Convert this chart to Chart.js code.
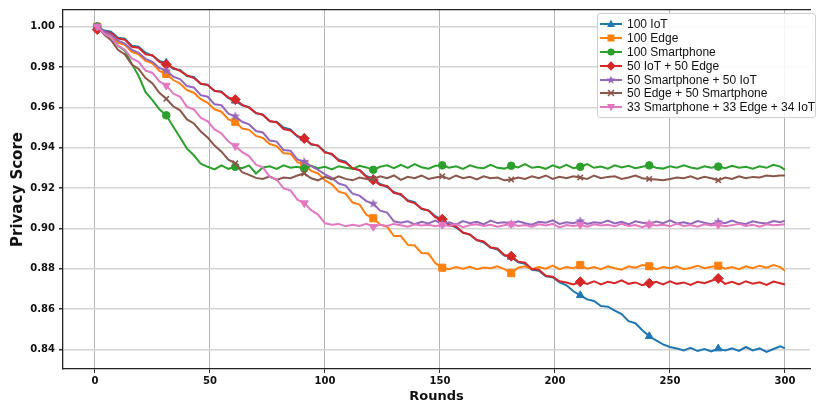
<!DOCTYPE html>
<html>
<head>
<meta charset="utf-8">
<script src="https://cdn.jsdelivr.net/npm/chart.js@4.4.1/dist/chart.umd.min.js"></script>
<style>
  html, body { margin: 0; padding: 0; background: #fff; overflow: hidden; }
  #wrap { position: relative; width: 816px; height: 405px; }
  #legend {
    position: absolute; left: 597px; top: 13px; width: 216px;
    padding: 3px 0 3px 1px; background: rgba(255,255,255,0.85);
    border: 1px solid #d0d0d0; border-radius: 3px;
    font: 12px "Liberation Sans", Arial, sans-serif; color: #111;
  }
  #legend .row { display: flex; align-items: center; height: 13.9px; white-space: nowrap; }
  #legend svg { width: 24px; height: 14px; margin-right: 4px; flex: none; }
</style>
</head>
<body>
<div id="wrap">
  <canvas id="privacyChart" width="816" height="405"></canvas>
  <div id="legend"></div>
</div>
<script>
// rounds (sampled every 3 rounds, markers every 30)
const rounds = [
  1, 4, 7, 10, 13, 16, 19, 22, 25, 28,
  31, 34, 37, 40, 43, 46, 49, 52, 55, 58,
  61, 64, 67, 70, 73, 76, 79, 82, 85, 88,
  91, 94, 97, 100, 103, 106, 109, 112, 115, 118,
  121, 124, 127, 130, 133, 136, 139, 142, 145, 148,
  151, 154, 157, 160, 163, 166, 169, 172, 175, 178,
  181, 184, 187, 190, 193, 196, 199, 202, 205, 208,
  211, 214, 217, 220, 223, 226, 229, 232, 235, 238,
  241, 244, 247, 250, 253, 256, 259, 262, 265, 268,
  271, 274, 277, 280, 283, 286, 289, 292, 295, 298,
  300
];

const xTicks = [0, 50, 100, 150, 200, 250, 300];
const yTicks = [0.84, 0.86, 0.88, 0.90, 0.92, 0.94, 0.96, 0.98, 1.00];

const iot100 = [
  1.000, 0.9980, 0.9975, 0.9945, 0.9940, 0.9905, 0.9900, 0.9870, 0.9855, 0.9830,
  0.9820, 0.9790, 0.9785, 0.9755, 0.9750, 0.9715, 0.9712, 0.9680, 0.9678, 0.9645,
  0.9632, 0.9610, 0.9600, 0.9570, 0.9565, 0.9530, 0.9528, 0.9500, 0.9490, 0.9455,
  0.9448, 0.9415, 0.9410, 0.9380, 0.9365, 0.9340, 0.9330, 0.9295, 0.9290, 0.9260,
  0.9245, 0.9220, 0.9205, 0.9180, 0.9165, 0.9140, 0.9130, 0.9095, 0.9090, 0.9060,
  0.9042, 0.9020, 0.9005, 0.8980, 0.8968, 0.8942, 0.8930, 0.8905, 0.8895, 0.8865,
  0.8858, 0.8832, 0.8825, 0.8795, 0.8790, 0.8762, 0.8758, 0.8732, 0.8718, 0.8688,
  0.8668, 0.8648, 0.8640, 0.8615, 0.8612, 0.8592, 0.8575, 0.8540, 0.8530, 0.8495,
  0.8465, 0.8445, 0.8425, 0.8412, 0.8405, 0.8395, 0.8408, 0.8392, 0.8402, 0.839,
  0.8404, 0.8395, 0.8405, 0.8393, 0.8412, 0.8395, 0.8405, 0.8388, 0.8402, 0.8415,
  0.8405
];

const edge100 = [
  1.000, 0.9970, 0.9960, 0.9920, 0.9910, 0.9875, 0.9862, 0.9830, 0.9818, 0.9780,
  0.9765, 0.9735, 0.9718, 0.9685, 0.9672, 0.9640, 0.9622, 0.9590, 0.9578, 0.9540,
  0.9528, 0.9495, 0.9488, 0.9458, 0.9448, 0.9418, 0.9408, 0.9372, 0.9370, 0.9328,
  0.9318, 0.9285, 0.9272, 0.9238, 0.9218, 0.9182, 0.9172, 0.9128, 0.9118, 0.9068,
  0.9050, 0.9018, 0.9008, 0.8962, 0.8962, 0.8918, 0.8915, 0.8878, 0.8875, 0.8828,
  0.8805, 0.8798, 0.8808, 0.880, 0.881, 0.8798, 0.8806, 0.8802, 0.8812, 0.8798,
  0.8778, 0.8805, 0.8812, 0.8798, 0.8808, 0.880, 0.8815, 0.8798, 0.8808, 0.8802,
  0.8818, 0.880, 0.8808, 0.8798, 0.8812, 0.8802, 0.8795, 0.8812, 0.8805, 0.8818,
  0.8812, 0.8798, 0.8808, 0.8802, 0.8812, 0.8798, 0.8805, 0.8815, 0.8802, 0.881,
  0.8815, 0.880, 0.8808, 0.8798, 0.8812, 0.8803, 0.8815, 0.8805, 0.8818, 0.8808,
  0.879
];

const phone100 = [
  1.000, 0.9965, 0.9945, 0.9905, 0.9880, 0.9815, 0.9755, 0.9675, 0.9635, 0.9590,
  0.9560, 0.9505, 0.9450, 0.9395, 0.9362, 0.9320, 0.9305, 0.9292, 0.9312, 0.9295,
  0.9305, 0.9298, 0.9312, 0.9272, 0.9302, 0.9308, 0.9295, 0.9312, 0.930, 0.9305,
  0.9296, 0.931, 0.9298, 0.9305, 0.9292, 0.9308, 0.930, 0.9295, 0.931, 0.9302,
  0.929, 0.9305, 0.9312, 0.9298, 0.9315, 0.930, 0.9318, 0.9303, 0.9296, 0.931,
  0.9312, 0.930, 0.9308, 0.9295, 0.9312, 0.9302, 0.9298, 0.9315, 0.930, 0.9296,
  0.931, 0.9302, 0.9318, 0.930, 0.9305, 0.9295, 0.9312, 0.930, 0.9315, 0.9298,
  0.9305, 0.9318, 0.930, 0.9306, 0.9296, 0.9312, 0.9302, 0.931, 0.9298, 0.9305,
  0.9312, 0.930, 0.9296, 0.9308, 0.930, 0.9312, 0.9302, 0.9296, 0.9308, 0.930,
  0.9306, 0.9298, 0.931, 0.930, 0.9305, 0.9296, 0.9308, 0.930, 0.9315, 0.9306,
  0.929
];

const iot50edge50 = [
  0.9985, 0.9975, 0.9968, 0.9940, 0.9935, 0.9900, 0.9895, 0.9862, 0.9858, 0.9825,
  0.9812, 0.9795, 0.9780, 0.9758, 0.9745, 0.9718, 0.9710, 0.9682, 0.9675, 0.9648,
  0.9638, 0.9612, 0.9598, 0.9572, 0.9562, 0.9532, 0.9525, 0.9492, 0.9485, 0.9458,
  0.9445, 0.9418, 0.9410, 0.9375, 0.9370, 0.9335, 0.9325, 0.9298, 0.9288, 0.9255,
  0.9240, 0.9215, 0.9210, 0.9175, 0.9170, 0.9135, 0.9125, 0.9098, 0.9088, 0.9055,
  0.9045, 0.9015, 0.9010, 0.8978, 0.8970, 0.8942, 0.8935, 0.8905, 0.8900, 0.8868,
  0.8862, 0.8835, 0.8830, 0.8798, 0.8795, 0.8765, 0.8760, 0.8738, 0.8732, 0.8722,
  0.8735, 0.8725, 0.8738, 0.8722, 0.8735, 0.8728, 0.8742, 0.8725, 0.8732, 0.8718,
  0.8728, 0.8735, 0.8722, 0.8738, 0.8725, 0.8732, 0.872, 0.8735, 0.8728, 0.874,
  0.8752, 0.8725, 0.8735, 0.8722, 0.8738, 0.8726, 0.8733, 0.872, 0.8736, 0.8728,
  0.8722
];

const phone50iot50 = [
  1.000, 0.9975, 0.9960, 0.9930, 0.9915, 0.9885, 0.9870, 0.9840, 0.9825, 0.9795,
  0.9782, 0.9752, 0.9740, 0.9705, 0.9698, 0.9660, 0.9652, 0.9615, 0.9610, 0.9568,
  0.9555, 0.9528, 0.9515, 0.9482, 0.9475, 0.9435, 0.9430, 0.9388, 0.9385, 0.9342,
  0.9330, 0.9308, 0.9290, 0.9268, 0.9250, 0.9222, 0.9212, 0.9172, 0.9162, 0.9135,
  0.9122, 0.9088, 0.9078, 0.9035, 0.9028, 0.9035, 0.902, 0.9032, 0.9024, 0.9038,
  0.9022, 0.9030, 0.9018, 0.9036, 0.9025, 0.9032, 0.9020, 0.9038, 0.9026, 0.9030,
  0.9022, 0.9035, 0.9025, 0.9018, 0.9032, 0.9028, 0.9040, 0.9022, 0.9030, 0.9025,
  0.9036, 0.9022, 0.9030, 0.9026, 0.9038, 0.9024, 0.9032, 0.9020, 0.9035, 0.9028,
  0.9022, 0.9034, 0.9026, 0.9040, 0.9024, 0.9030, 0.9022, 0.9036, 0.9028, 0.9020,
  0.9032, 0.9025, 0.9038, 0.9026, 0.9022, 0.9035, 0.9028, 0.9024, 0.9036, 0.9030,
  0.9038
];

const edge50phone50 = [
  1.000, 0.9960, 0.9932, 0.9885, 0.9862, 0.9812, 0.9790, 0.9745, 0.9718, 0.9672,
  0.9642, 0.9605, 0.9585, 0.9540, 0.9520, 0.9480, 0.9450, 0.9410, 0.9380, 0.9340,
  0.9322, 0.9278, 0.9265, 0.9250, 0.9245, 0.9258, 0.924, 0.9252, 0.9248, 0.9262,
  0.9272, 0.9248, 0.9238, 0.9255, 0.9242, 0.9258, 0.9245, 0.9238, 0.9252, 0.9245,
  0.9245, 0.9258, 0.9248, 0.9262, 0.924, 0.9255, 0.9248, 0.9262, 0.9245, 0.9252,
  0.9258, 0.9245, 0.9262, 0.9248, 0.9255, 0.9242, 0.9258, 0.9248, 0.9252, 0.9238,
  0.9242, 0.9252, 0.9245, 0.9258, 0.9248, 0.9262, 0.9245, 0.9255, 0.9248, 0.9258,
  0.9252, 0.9245, 0.9262, 0.9248, 0.9255, 0.9258, 0.9245, 0.9252, 0.9262, 0.9248,
  0.9245, 0.9242, 0.9238, 0.9245, 0.9252, 0.9248, 0.9258, 0.9245, 0.9255, 0.9248,
  0.9238, 0.9252, 0.9245, 0.9258, 0.9248, 0.9255, 0.9252, 0.9262, 0.9258, 0.9262,
  0.9262
];

const mixed333334 = [
  1.000, 0.9965, 0.9945, 0.9905, 0.9885, 0.9842, 0.9825, 0.9782, 0.9770, 0.9728,
  0.9708, 0.9668, 0.9652, 0.9602, 0.9590, 0.9548, 0.9530, 0.9490, 0.9470, 0.9430,
  0.9408, 0.9378, 0.9358, 0.9315, 0.9302, 0.9255, 0.9242, 0.9198, 0.9188, 0.9142,
  0.9125, 0.9090, 0.9068, 0.9025, 0.9018, 0.9022, 0.901, 0.9018, 0.9012, 0.9022,
  0.9008, 0.9018, 0.9012, 0.9022, 0.9015, 0.9008, 0.902, 0.9014, 0.9018, 0.901,
  0.9018, 0.9012, 0.9022, 0.9006, 0.9016, 0.902, 0.9012, 0.9018, 0.9008, 0.9015,
  0.9022, 0.9012, 0.9016, 0.9008, 0.902, 0.9014, 0.9022, 0.9005, 0.9016, 0.9012,
  0.9018, 0.9008, 0.902, 0.9014, 0.9018, 0.901, 0.9022, 0.9012, 0.9016, 0.9006,
  0.902, 0.9014, 0.9018, 0.901, 0.9022, 0.9012, 0.9016, 0.9008, 0.902, 0.9014,
  0.9018, 0.901, 0.9016, 0.9022, 0.9012, 0.9018, 0.9008, 0.902, 0.9015, 0.9018,
  0.902
];

const seriesNames = [
  '100 IoT', '100 Edge', '100 Smartphone', '50 IoT + 50 Edge',
  '50 Smartphone + 50 IoT', '50 Edge + 50 Smartphone', '33 Smartphone + 33 Edge + 34 IoT'
];
const seriesValues = [iot100, edge100, phone100, iot50edge50, phone50iot50, edge50phone50, mixed333334];
const colors = ['#1f77b4', '#ff7f0e', '#2ca02c', '#d62728', '#9467bd', '#8c564b', '#e377c2'];

// filled five point star for the purple series (matplotlib '*')
function starCanvas(color, r) {
    const c = document.createElement('canvas');
    c.width = c.height = Math.ceil(r * 2 + 2);
    const g = c.getContext('2d');
    const cx = c.width / 2, cy = c.height / 2;
    g.beginPath();
    for (let k = 0; k < 10; k++) {
        const rr = k % 2 === 0 ? r : r * 0.42;
        const a = -Math.PI / 2 + k * Math.PI / 5;
        g.lineTo(cx + rr * Math.cos(a), cy + rr * Math.sin(a));
    }
    g.closePath();
    g.fillStyle = color;
    g.fill();
    return c;
}

const markers = [
    { style: 'triangle', radius: 4.5, rot: 0 },
    { style: 'rect', radius: 5, rot: 0 },
    { style: 'circle', radius: 3.8, rot: 0 },
    { style: 'rectRot', radius: 5, rot: 0 },
    { style: starCanvas(colors[4], 5), radius: 5, rot: 0 },
    { style: 'crossRot', radius: 3.8, rot: 0 },
    { style: 'triangle', radius: 4.5, rot: 180 }
];

const datasets = seriesNames.map((name, i) => ({
    label: name,
    data: seriesValues[i].map((v, j) => ({ x: rounds[j], y: v })),
    borderColor: colors[i],
    backgroundColor: colors[i],
    borderWidth: 2,
    tension: 0,
    fill: false,
    pointStyle: markers[i].style,
    pointRotation: markers[i].rot,
    pointBorderWidth: i === 5 ? 1.6 : 1,
    pointRadius: (c) => (c.dataIndex % 10 === 0 && c.dataIndex < 100 ? markers[i].radius : 0),
    pointHoverRadius: 0,
    order: 6 - i
}));

const tickFont = { family: 'DejaVu Sans', size: 10, weight: 'bold' };

new Chart(document.getElementById('privacyChart'), {
    type: 'line',
    data: { datasets: datasets },
    options: {
        responsive: false,
        animation: false,
        events: [],
        layout: { padding: { top: 8, right: 0, bottom: 0, left: 0 } },
        plugins: { legend: { display: false }, tooltip: { enabled: false } },
        scales: {
            x: {
                type: 'linear',
                min: -13.9,
                max: 310.9,
                afterBuildTicks: (s) => { s.ticks = xTicks.map(v => ({ value: v })); },
                afterFit: (s) => { s.height = 36; },
                ticks: { font: tickFont, color: '#111', padding: 2, maxRotation: 0 },
                grid: { color: '#b4b4b4', lineWidth: 1, tickLength: 4, tickColor: '#333' },
                border: { color: '#222', width: 1.3 },
                title: { display: true, text: 'Rounds', color: '#111',
                         font: { family: 'DejaVu Sans', size: 13, weight: 'bold' },
                         padding: { top: 0, bottom: 1 } }
            },
            xTop: {
                type: 'linear',
                position: 'top',
                min: -13.9,
                max: 310.9,
                afterFit: (s) => { s.height = 0; },
                ticks: { display: false },
                grid: { drawOnChartArea: false, drawTicks: false },
                border: { color: '#222', width: 1.3 }
            },
            y: {
                min: 0.8303,
                max: 1.0082,
                afterBuildTicks: (s) => { s.ticks = yTicks.map(v => ({ value: v })); },
                afterFit: (s) => { s.width = 63; },
                ticks: { font: tickFont, color: '#111', padding: 4,
                         callback: (v) => v.toFixed(2) },
                grid: { color: '#d4d4d4', lineWidth: 1.5, tickLength: 4, tickColor: '#333' },
                border: { color: '#222', width: 1.3 },
                title: { display: true, text: 'Privacy Score', color: '#111',
                         font: { family: 'DejaVu Sans', size: 15, weight: 'bold' },
                         padding: { top: 9, bottom: 0 } }
            }
        }
    }
});

// legend inside the plot, top right (matplotlib style)
function markerSvg(i) {
    const c = colors[i];
    const line = `<line x1="1" y1="7" x2="23" y2="7" stroke="${c}" stroke-width="2"/>`;
    let m = '';
    switch (i) {
        case 0: m = `<polygon points="12,2.8 16,10 8,10" fill="${c}"/>`; break;
        case 1: m = `<rect x="8.5" y="3.5" width="7" height="7" fill="${c}"/>`; break;
        case 2: m = `<circle cx="12" cy="7" r="3.6" fill="${c}"/>`; break;
        case 3: m = `<polygon points="12,2.3 16.7,7 12,11.7 7.3,7" fill="${c}"/>`; break;
        case 4: {
            let pts = [];
            for (let k = 0; k < 10; k++) {
                const rr = k % 2 === 0 ? 4.6 : 1.9;
                const a = -Math.PI / 2 + k * Math.PI / 5;
                pts.push((12 + rr * Math.cos(a)).toFixed(2) + ',' + (7 + rr * Math.sin(a)).toFixed(2));
            }
            m = `<polygon points="${pts.join(' ')}" fill="${c}"/>`;
            break;
        }
        case 5: m = `<path d="M9,4 L15,10 M15,4 L9,10" stroke="${c}" stroke-width="1.6"/>`; break;
        case 6: m = `<polygon points="12,11.2 16,4 8,4" fill="${c}"/>`; break;
    }
    return `<svg viewBox="0 0 24 14">${line}${m}</svg>`;
}

document.getElementById('legend').innerHTML = seriesNames
    .map((name, i) => `<div class="row">${markerSvg(i)}<span>${name}</span></div>`)
    .join('');
</script>
</body>
</html>
